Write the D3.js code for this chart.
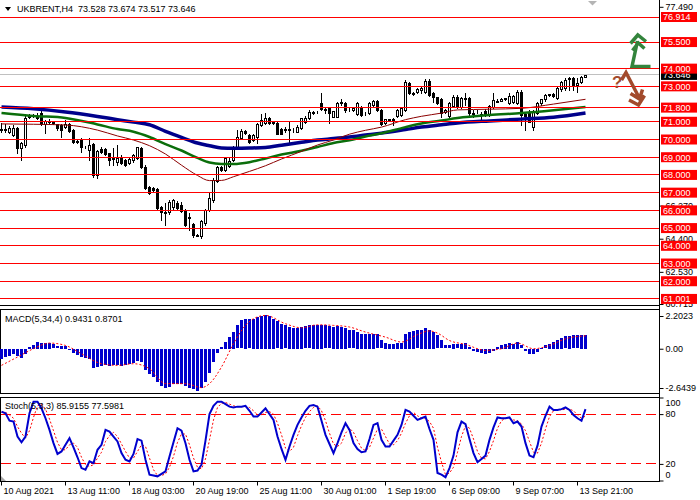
<!DOCTYPE html>
<html>
<head>
<meta charset="utf-8">
<script src="https://cdnjs.cloudflare.com/ajax/libs/d3/7.8.5/d3.min.js"></script>
<style>
  body { margin: 0; background: #fff; }
  svg { display: block; }
  text { font-family: "Liberation Sans", Arial, sans-serif; font-size: 9px; }
</style>
</head>
<body>
<div id="graph"></div>
<script>
// ---- candles (UKBRENT H4), one entry per bar ----
var open = [70.55,70.60,70.45,70.28,70.63,69.50,69.69,71.25,71.35,71.30,
  71.47,70.85,71.05,71.00,70.85,70.80,70.72,70.90,70.55,69.88,
  70.00,69.59,69.41,69.72,67.98,69.48,69.48,69.22,68.90,68.72,
  69.03,68.84,68.66,68.82,68.94,69.50,68.47,67.34,67.24,67.18,
  66.21,65.93,65.88,66.17,66.40,66.30,66.02,65.65,65.22,64.62,
  64.55,65.30,66.02,66.59,67.68,68.47,68.28,68.50,68.84,69.50,
  70.06,70.50,70.25,69.97,70.16,70.82,70.91,71.20,70.95,70.91,
  70.60,70.55,70.55,70.55,70.45,70.63,71.00,71.20,71.50,71.55,
  72.08,71.70,71.76,71.29,71.29,72.04,72.04,71.70,71.67,71.44,
  71.85,71.50,71.48,71.95,72.20,71.67,70.91,71.14,71.10,71.30,
  71.38,71.67,73.17,72.60,72.66,72.82,72.70,73.32,72.61,72.38,
  72.27,71.55,71.33,71.89,72.42,71.85,72.30,72.32,71.50,71.55,
  71.45,71.63,71.38,71.85,72.20,72.20,72.30,72.04,72.10,72.04,
  72.70,71.45,71.57,70.72,71.51,72.04,72.27,72.51,72.55,72.36,
  72.83,72.89,73.40,73.45,73.10,73.26,73.528];
var high = [70.95,70.90,70.75,70.80,70.72,69.85,71.40,71.45,71.45,71.48,
  71.60,71.10,71.15,71.05,70.90,70.88,71.10,70.95,70.60,69.95,
  70.10,69.65,70.07,69.80,69.40,69.55,69.50,69.25,69.50,69.69,
  69.10,68.90,68.95,69.20,69.60,69.55,68.55,67.40,67.30,67.25,
  66.25,66.40,66.60,66.65,66.55,66.49,66.10,65.83,65.30,64.66,
  65.45,66.05,66.96,67.80,68.50,68.52,68.98,69.00,69.65,70.54,
  70.60,70.55,70.30,70.30,70.95,71.45,71.48,71.25,71.05,71.00,
  70.65,70.70,71.00,70.65,70.80,71.22,71.35,71.67,71.60,71.62,
  72.61,71.85,71.80,71.62,72.14,72.27,72.10,71.75,71.80,72.10,
  71.90,71.56,72.10,72.25,72.25,71.70,71.15,71.18,71.20,71.72,
  71.80,73.36,73.25,72.66,72.90,73.00,73.40,73.40,72.66,72.42,
  72.32,71.70,72.10,72.50,72.50,72.40,72.61,72.40,71.67,71.65,
  71.55,71.70,71.95,72.61,72.30,72.35,72.36,72.61,72.50,72.79,
  72.80,71.55,71.65,71.65,72.10,72.30,72.55,72.58,72.60,72.95,
  73.30,73.45,73.55,73.50,73.45,73.60,73.674];
var low = [70.40,70.45,70.35,70.22,69.22,68.85,69.60,71.20,71.25,71.15,
  70.80,70.38,70.90,70.85,70.55,70.12,70.65,70.45,69.80,69.80,
  69.31,69.50,68.84,67.88,67.85,69.25,69.15,68.56,68.56,68.56,
  68.62,68.50,68.60,68.75,68.90,68.40,67.20,66.90,67.05,66.05,
  65.46,65.18,65.80,66.10,66.05,65.90,65.10,64.90,64.50,64.55,
  64.45,65.20,65.95,66.50,67.60,68.22,68.20,68.45,68.78,69.45,
  70.00,70.30,69.78,69.90,69.80,70.75,70.85,70.85,70.90,70.30,
  70.30,70.45,69.78,70.45,70.40,70.58,70.95,71.15,71.45,71.50,
  71.65,71.48,70.91,71.25,71.25,71.95,71.57,71.62,71.60,71.40,
  71.30,71.40,71.45,71.90,71.60,70.80,70.85,71.05,70.82,71.25,
  71.33,71.60,72.55,72.50,72.60,72.61,72.65,72.45,72.14,72.00,
  71.29,71.48,71.25,71.85,71.80,71.80,71.95,71.40,71.25,71.50,
  71.01,71.35,71.30,71.80,72.10,72.15,72.25,72.00,72.04,72.00,
  70.82,70.54,71.00,70.54,71.45,71.95,72.20,72.45,72.42,72.30,
  72.75,72.80,72.79,72.79,72.70,73.20,73.517];
var close = [70.62,70.55,70.66,70.63,69.50,69.78,71.19,71.35,71.38,71.22,
  70.85,71.05,71.00,70.92,70.65,70.55,70.90,70.50,69.88,69.90,
  69.59,69.60,69.69,68.00,69.35,69.30,69.20,68.84,68.95,68.97,
  68.66,68.56,68.88,69.12,69.55,68.47,67.24,66.96,67.15,66.12,
  65.88,65.85,66.49,66.59,66.12,65.98,65.18,65.55,64.62,64.58,
  65.40,66.02,66.68,67.72,68.47,68.28,68.94,68.80,69.60,70.12,
  70.50,70.35,69.88,70.25,70.85,71.10,71.20,70.91,71.00,70.31,
  70.32,70.57,70.60,70.52,70.72,71.20,71.23,71.53,71.55,71.56,
  71.70,71.65,71.48,71.60,72.08,72.10,71.67,71.70,71.75,72.04,
  71.38,71.48,72.04,72.20,71.67,70.88,71.14,71.12,71.15,71.65,
  71.76,73.26,72.61,72.55,72.85,72.88,73.32,72.51,72.38,72.04,
  71.48,71.65,72.04,72.42,71.85,72.32,72.34,71.51,71.45,71.58,
  71.40,71.38,71.89,72.23,72.14,72.27,72.32,72.45,72.45,72.70,
  71.38,71.35,71.01,71.57,72.04,72.27,72.51,72.55,72.48,72.89,
  73.26,73.36,73.45,73.00,73.20,73.55,73.646];

// ---- moving averages, read at sample bars ----
var maIdx = [0,8,16,24,29,33,37,41,45,49,52,55,58,62,66,70,75,79,83,87,91,95,101,105,110,114,122,130,138,146];
var maBlue = [71.83,71.73,71.55,71.30,71.12,70.98,70.83,70.46,70.12,69.80,69.65,69.52,69.51,69.52,69.55,69.68,
  69.84,69.97,70.05,70.14,70.25,70.36,70.56,70.70,70.83,70.93,71.05,71.15,71.26,71.50];
var maGreen = [71.50,71.33,71.22,70.85,70.59,70.44,70.14,69.74,69.38,68.96,68.70,68.62,68.62,68.72,68.93,69.15,
  69.36,69.58,69.80,69.96,70.17,70.35,70.70,70.90,71.07,71.21,71.38,71.49,71.65,71.84];
var maRed = [70.88,70.86,70.82,70.53,70.20,69.97,69.65,69.18,68.55,67.97,67.68,67.69,67.90,68.20,68.52,68.90,
  69.33,69.69,69.97,70.30,70.52,70.70,71.12,71.31,71.49,71.67,71.71,71.76,72.00,72.27];

// ---- horizontal levels and price scale labels ----
var levels = [76.914,75.5,74,73,71.8,71,70,69,68,67,66,65,64,63,62,61.001];
var priceTicks = [77.49,66.27,64.4,62.53,60.715];
var bid = 73.646;

// ---- MACD(5,34,4) ----
var macdHist = [-0.67,-0.56,-0.45,-0.34,-0.45,-0.60,-0.34,0.11,0.27,0.45,
  0.38,0.40,0.38,0.29,0.16,0.18,0.18,-0.04,-0.29,-0.38,
  -0.56,-0.60,-0.67,-1.30,-1.23,-1.12,-1.08,-1.12,-1.08,-1.05,
  -1.12,-1.08,-1.01,-0.94,-0.78,-0.90,-1.39,-1.68,-1.86,-2.24,
  -2.47,-2.62,-2.53,-2.35,-2.35,-2.35,-2.47,-2.62,-2.69,-2.80,
  -2.62,-2.24,-1.64,-0.90,-0.29,0.11,0.45,0.78,1.12,1.57,
  1.91,2.02,1.97,2.02,2.13,2.20,2.29,2.20,2.02,1.84,
  1.68,1.57,1.46,1.39,1.39,1.46,1.50,1.57,1.61,1.61,
  1.61,1.57,1.50,1.46,1.52,1.46,1.39,1.23,1.23,1.12,
  1.01,1.01,1.01,1.01,0.96,0.56,0.38,0.34,0.34,0.38,
  0.38,1.01,1.12,1.19,1.23,1.28,1.41,1.28,1.12,0.90,
  0.56,0.22,0.22,0.34,0.29,0.34,0.38,0.11,-0.11,-0.18,
  -0.27,-0.34,-0.29,-0.11,0.11,0.27,0.34,0.38,0.34,0.45,
  0.22,-0.11,-0.34,-0.34,-0.18,0.02,0.22,0.34,0.45,0.61,
  0.74,0.83,0.88,0.90,0.89,0.92,0.9431];
var macdSigIdx = [0,4,8,12,16,20,25,29,33,37,41,46,50,52,55,58,61,63,66,71,75,79,83,87,91,96,100,104,107,109,112,116,121,125,129,133,137,141,146];
var macdSig = [-1.12,-0.56,0.0,0.38,0.22,-0.34,-1.01,-1.12,-1.01,-1.35,-2.35,-2.35,-2.62,-2.35,-1.23,0.34,1.57,2.02,2.24,
  1.68,1.41,1.61,1.57,1.46,1.12,0.78,0.45,0.95,1.2,1.05,0.55,0.29,-0.11,0.0,0.38,0.0,0.22,0.67,0.8701];
var macdTicks = [2.2023,0,-2.6439];

// ---- Stochastic(5,3,3) ----
var stochMain = [83,81,72,71,53,46,53,81,95,95,87,75,61,45,32,35,43,51,40,28,
  15,13,23,21,37,43,61,59,53,47,33,25,23,32,50,48,25,7,6,5,
  8,11,29,46,63,60,45,25,11,12,19,48,80,90,95,95,92,89,88,89,
  89,90,84,77,77,82,87,80,73,53,38,25,41,55,67,76,84,90,91,89,
  72,55,44,33,45,58,69,61,45,38,34,35,50,67,69,49,41,41,48,55,
  67,85,83,78,73,75,77,62,49,9,7,4,15,30,58,71,68,50,33,22,
  26,30,49,64,76,75,75,76,69,71,65,45,30,28,42,65,78,89,85,85,
  86,88,85,79,75,72,85.9155];
var stochSig = [82,82,79,75,65,57,51,60,76,90,92,86,74,60,46,37,37,43,45,40,
  28,19,17,19,27,34,47,54,58,53,44,35,27,27,35,43,41,27,13,6,
  6,8,16,29,46,56,56,43,27,16,14,26,49,73,88,93,94,92,90,89,
  89,89,88,84,79,79,82,83,80,69,55,39,35,40,54,66,76,83,88,90,
  84,72,57,44,41,45,57,63,58,48,39,36,40,51,62,62,53,44,43,48,
  57,69,78,82,78,75,75,71,63,40,22,7,9,16,34,53,66,63,50,35,
  27,26,35,48,63,72,75,75,73,72,68,60,47,34,33,45,62,77,84,86,
  85,86,86,84,79,75,77.5981];
var stochLevels = [80,20];
var stochTicks = [100,80,20,0];

// ---- time axis ----
var timeIdx = [0,16,32,48,64,80,96,112,128,144];
var timeLabels = ["10 Aug 2021","13 Aug 11:00","18 Aug 03:00","20 Aug 19:00","25 Aug 11:00",
  "30 Aug 01:00","1 Sep 19:00","6 Sep 09:00","9 Sep 07:00","13 Sep 21:00"];

var svgWidth = 700, svgHeight = 500;
var axisX = 659.5;

var svg = d3.select('#graph').append('svg')
    .attr('width', svgWidth)
    .attr('height', svgHeight);

var x = d3.scaleLinear().domain([0, 146]).range([1.5, 585.5]);
var yPrice = d3.scaleLinear().domain([60.715, 77.49]).range([304, 6.8]);
var yMacd = d3.scaleLinear().domain([-2.6439, 2.2023]).range([388, 316]);
var yStoch = d3.scaleLinear().domain([0, 100]).range([480.5, 397.5]);

function crisp(v) { return Math.round(v - 0.5) + 0.5; }

// ---------- main panel ----------
var main = svg.append('g');

// candles
var bars = d3.range(open.length);
bars.forEach(function(i) {
  var cx = x(i);
  main.append('line')
      .attr('x1', cx).attr('x2', cx)
      .attr('y1', Math.round(yPrice(high[i]))).attr('y2', Math.round(yPrice(low[i])) + 1)
      .attr('stroke', '#000').attr('stroke-width', 1);
  var top = Math.round(yPrice(Math.max(open[i], close[i])));
  var bot = Math.round(yPrice(Math.min(open[i], close[i])));
  var up = close[i] >= open[i];
  main.append('rect')
      .attr('x', cx - 1).attr('width', 2)
      .attr('y', top + 0.5).attr('height', Math.max(0, bot - top))
      .attr('fill', up ? '#fff' : '#000')
      .attr('stroke', '#000').attr('stroke-width', 1);
});

// moving averages
function maLine(vals) {
  return d3.line()
      .x(function(d, k) { return x(maIdx[k]); })
      .y(function(d) { return yPrice(d); })
      .curve(d3.curveMonotoneX)(vals);
}
main.append('path').attr('d', maLine(maBlue)).attr('fill', 'none')
    .attr('stroke', '#00008b').attr('stroke-width', 3.5);
main.append('path').attr('d', maLine(maGreen)).attr('fill', 'none')
    .attr('stroke', '#0b6e0b').attr('stroke-width', 2.5);
main.append('path').attr('d', maLine(maRed)).attr('fill', 'none')
    .attr('stroke', '#8b0000').attr('stroke-width', 1);

// horizontal levels
main.selectAll('.lvl').data(levels).enter().append('line')
    .attr('x1', 0).attr('x2', axisX)
    .attr('y1', function(d) { return crisp(yPrice(d)); })
    .attr('y2', function(d) { return crisp(yPrice(d)); })
    .attr('stroke', '#ff0000').attr('stroke-width', 1);

main.append('line')
    .attr('x1', 0).attr('x2', axisX)
    .attr('y1', crisp(yPrice(bid))).attr('y2', crisp(yPrice(bid)))
    .attr('stroke', '#c0c0c0').attr('stroke-width', 1);

// price axis
var pAxis = svg.append('g')
    .attr('transform', 'translate(' + axisX + ',0)')
    .call(d3.axisRight(yPrice).tickValues(priceTicks).tickSize(4).tickPadding(2)
      .tickFormat(d3.format('.3f')));
pAxis.select('.domain').remove();
pAxis.selectAll('text').attr('fill', '#000').style('font-size', '9px').style('font-family', '"Liberation Sans", Arial, sans-serif');
pAxis.selectAll('line').attr('stroke', '#000');

// bid box
svg.append('rect').attr('x', 661).attr('y', yPrice(bid) - 5).attr('width', 36).attr('height', 10).attr('fill', '#000');
svg.append('text').attr('x', 663).attr('y', yPrice(bid) + 3.3).attr('fill', '#fff').text(bid.toFixed(3));

// level boxes
var lb = svg.selectAll('.lb').data(levels).enter().append('g');
lb.append('rect')
    .attr('x', 661).attr('width', 36)
    .attr('y', function(d) { return yPrice(d) - 5; }).attr('height', 10)
    .attr('fill', '#ff0000');
lb.append('text')
    .attr('x', 663)
    .attr('y', function(d) { return yPrice(d) + 3.3; })
    .attr('fill', '#fff')
    .text(function(d) { return d.toFixed(3); });

// header
svg.append('path').attr('d', 'M5,7L11,7L8,11Z').attr('fill', '#000');
svg.append('text').attr('x', 17).attr('y', 12).style('white-space', 'pre')
    .text('UKBRENT,H4  73.528 73.674 73.517 73.646');

// chart shift marker
svg.append('path').attr('d', 'M588,1L597,1L592.5,5.5Z').attr('fill', '#b4b4b4');

// arrows
var green = '#33843c', brown = '#a24a2c';
svg.append('path')
    .attr('d', 'M650.5,66.5L632,66.5L637.5,41 M630.5,43.5L637.8,35L646,41.5 M632.5,50.5L638.3,43L644.5,48.5')
    .attr('fill', 'none').attr('stroke', green).attr('stroke-width', 3.5).attr('stroke-linejoin', 'miter');
svg.append('path')
    .attr('d', 'M621.5,80L626,72.5L638.5,96.5 M630.5,93.5L639.5,99L642.5,89.5 M629,100L638.5,105L644.5,95.5')
    .attr('fill', 'none').attr('stroke', brown).attr('stroke-width', 3.5).attr('stroke-linejoin', 'miter');
svg.append('text').attr('x', 612).attr('y', 88).attr('fill', brown)
    .style('font-size', '17px').style('font-weight', 'bold').text('?');

// panel frames
function hline(y, x1, x2) {
  svg.append('line').attr('x1', x1).attr('x2', x2).attr('y1', y).attr('y2', y)
      .attr('stroke', '#000').attr('stroke-width', 1);
}
hline(305.5, 0, axisX);
hline(309.5, 0, axisX);
hline(393.5, 0, axisX);
hline(397.5, 0, axisX);
hline(481.5, 0, axisX);
svg.append('line').attr('x1', 0.5).attr('x2', 0.5).attr('y1', 309.5).attr('y2', 393.5).attr('stroke', '#000');
svg.append('line').attr('x1', 0.5).attr('x2', 0.5).attr('y1', 397.5).attr('y2', 481.5).attr('stroke', '#000');
svg.append('line').attr('x1', axisX).attr('x2', axisX).attr('y1', 0).attr('y2', 482).attr('stroke', '#000');

// ---------- MACD ----------
var mg = svg.append('g');
mg.selectAll('rect').data(macdHist).enter().append('rect')
    .attr('x', function(d, i) { return x(i) - 1.5; })
    .attr('width', 3)
    .attr('y', function(d) { return Math.round(Math.min(yMacd(0), yMacd(d))); })
    .attr('height', function(d) { return Math.max(1, Math.round(Math.abs(yMacd(d) - yMacd(0)))); })
    .attr('fill', '#0000cd');
mg.append('path')
    .attr('d', d3.line()
      .x(function(d, k) { return x(macdSigIdx[k]); })
      .y(function(d) { return yMacd(d); })
      .curve(d3.curveMonotoneX)(macdSig))
    .attr('fill', 'none').attr('stroke', '#ff0000').attr('stroke-width', 1).attr('stroke-dasharray', '2,2');
mg.append('text').attr('x', 5).attr('y', 321.5).text('MACD(5,34,4) 0.9431 0.8701');

var mAxis = svg.append('g')
    .attr('transform', 'translate(' + axisX + ',0)')
    .call(d3.axisRight(yMacd).tickValues(macdTicks).tickSize(4).tickPadding(2)
      .tickFormat(function(d) { return d === 0 ? '0.00' : d.toFixed(4); }));
mAxis.select('.domain').remove();
mAxis.selectAll('text').attr('fill', '#000').style('font-size', '9px').style('font-family', '"Liberation Sans", Arial, sans-serif');
mAxis.selectAll('line').attr('stroke', '#000');

// ---------- Stochastic ----------
var sg = svg.append('g');
sg.selectAll('.sl').data(stochLevels).enter().append('line')
    .attr('x1', 1).attr('x2', axisX)
    .attr('y1', function(d) { return crisp(yStoch(d)); })
    .attr('y2', function(d) { return crisp(yStoch(d)); })
    .attr('stroke', '#ff0000').attr('stroke-width', 1).attr('stroke-dasharray', '10,5');
sg.append('path')
    .attr('d', d3.line().x(function(d, i) { return x(i); }).y(function(d) { return yStoch(d); })(stochSig))
    .attr('fill', 'none').attr('stroke', '#ff0000').attr('stroke-width', 1).attr('stroke-dasharray', '2,2');
sg.append('path')
    .attr('d', d3.line().x(function(d, i) { return x(i); }).y(function(d) { return yStoch(d); })(stochMain))
    .attr('fill', 'none').attr('stroke', '#0000cd').attr('stroke-width', 2);
sg.append('text').attr('x', 5).attr('y', 409).text('Stoch(5,3,3) 85.9155 77.5981');
svg.append('path').attr('d', 'M1,476L1,481L6,481Z').attr('fill', '#a8a8a8');

var sAxis = svg.append('g')
    .attr('transform', 'translate(' + axisX + ',0)')
    .call(d3.axisRight(yStoch).tickValues(stochTicks).tickSize(4).tickPadding(2));
sAxis.select('.domain').remove();
sAxis.selectAll('text').attr('fill', '#000').style('font-size', '9px').style('font-family', '"Liberation Sans", Arial, sans-serif')
    .attr('y', function(d) { return d === 100 ? 5 : (d === 0 ? -6 : 0); });
sAxis.selectAll('line').attr('stroke', '#000');

// ---------- time axis ----------
var tAxis = svg.append('g')
    .attr('transform', 'translate(-0.5,481.5)')
    .call(d3.axisBottom(x).tickValues(timeIdx).tickSize(4).tickPadding(2)
      .tickFormat(function(d, i) { return timeLabels[i]; }));
tAxis.select('.domain').remove();
tAxis.selectAll('text').attr('fill', '#000').attr('text-anchor', 'start').attr('x', 2)
    .style('font-size', '9px').style('font-family', '"Liberation Sans", Arial, sans-serif');
tAxis.selectAll('line').attr('stroke', '#000');
</script>
</body>
</html>
